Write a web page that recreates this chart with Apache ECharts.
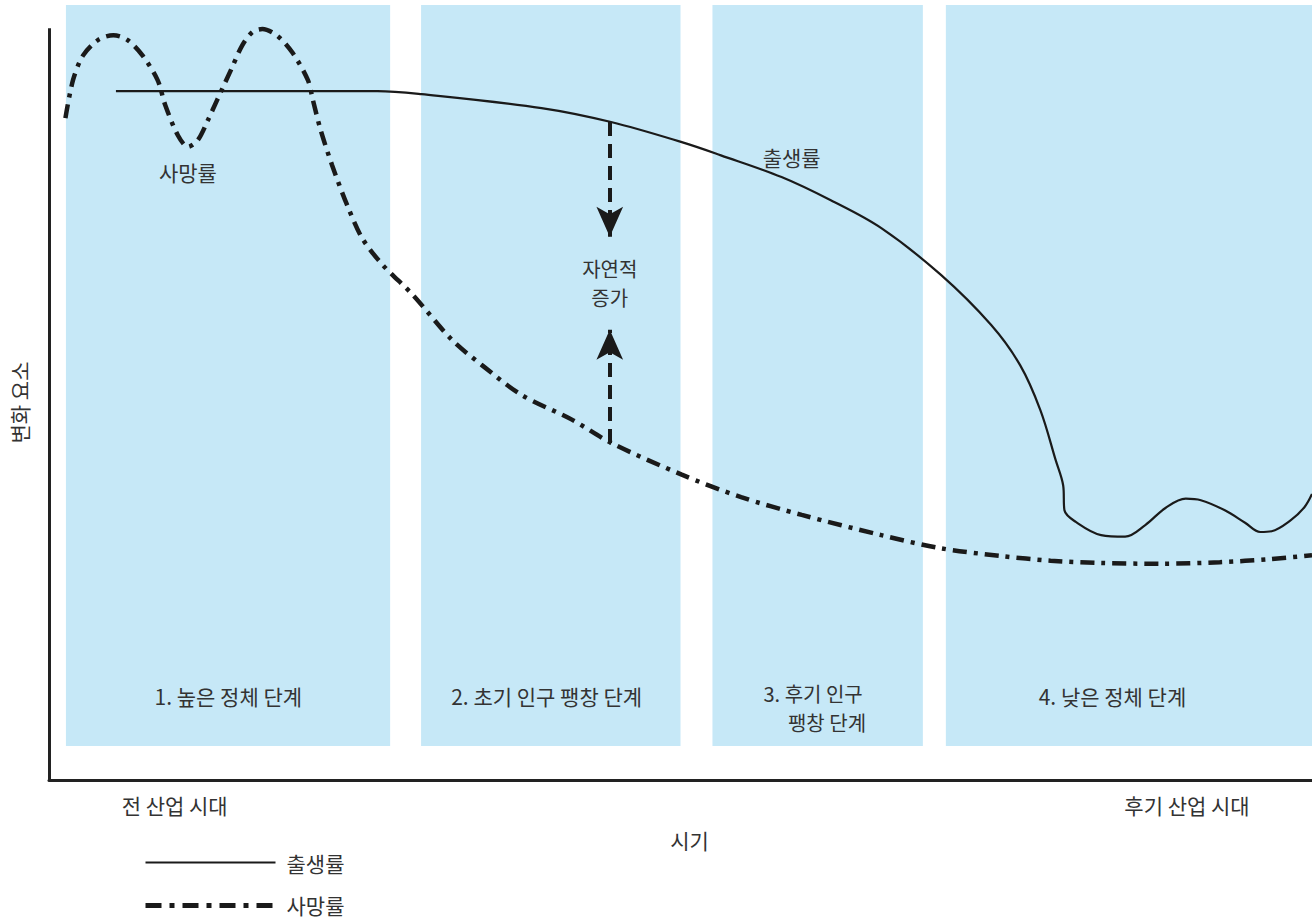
<!DOCTYPE html>
<html><head><meta charset="utf-8">
<script src="https://cdn.jsdelivr.net/npm/echarts@6/dist/echarts.min.js"></script>
<style>html,body{margin:0;padding:0;background:#fff}#c{width:1312px;height:920px}</style>
</head><body><div id="c"></div>
<script>
// Time (0-100) and magnitude (0-100)
const birthX = [5.3, 26.0, 29.5, 39.0, 44.5, 50.1, 53.2, 58.0, 61.9, 65.9, 70.6, 74.6, 76.9, 78.5, 79.7, 80.3, 80.4, 81.3, 83.3, 85.2, 86.8, 88.4, 90.0, 91.2, 93.1, 94.7, 95.9, 96.8, 98.3, 99.4, 100];
const birthY = [88.9, 88.9, 88.5, 86.7, 84.9, 82.3, 80.6, 77.8, 74.8, 71.2, 65.2, 58.7, 53.5, 47.7, 41.3, 38.0, 34.8, 33.3, 31.6, 31.4, 32.9, 35.1, 36.3, 36.1, 34.8, 33.2, 32.0, 32.1, 33.5, 35.2, 36.9];
const deathX = [1.3, 1.9, 2.7, 3.9, 5.1, 6.2, 7.4, 8.6, 9.2, 10.2, 11.0, 11.8, 12.6, 13.3, 14.4, 15.3, 16.1, 16.9, 18.1, 19.3, 20.5, 20.9, 21.5, 22.4, 23.6, 24.8, 26.4, 28.8, 31.9, 34.3, 37.4, 41.4, 44.5, 50.1, 54.8, 59.6, 65.9, 70.6, 75.4, 79.3, 83.3, 88.0, 92.7, 96.7, 100];
const deathY = [85.4, 90.3, 93.5, 95.5, 96.1, 95.5, 93.5, 90.3, 87.1, 83.2, 81.7, 82.6, 85.2, 87.7, 91.6, 94.8, 96.5, 96.9, 96.0, 93.8, 90.3, 87.7, 83.9, 79.4, 74.2, 69.9, 66.5, 62.6, 56.8, 53.5, 49.7, 46.5, 43.5, 39.4, 36.5, 34.2, 31.6, 29.9, 28.9, 28.3, 28.0, 27.9, 28.1, 28.5, 29.0];
const stageNames = ['1. 높은 정체 단계', '2. 초기 인구 팽창 단계', '3. 후기 인구', '팽창 단계', '4. 낮은 정체 단계'];
const stageStart = [1.34, 29.46, 52.53, 71.01];
const stageEnd = [27.01, 50.0, 69.19, 100];
const eraLabels = ['전 산업 시대', '후기 산업 시대'];
const eraAt = [9.95, 90.1];
const seriesNames = ['출생률', '사망률'];
const arrowX = 44.4;
const arrowDown = [84.9, 70.1];
const arrowUp = [43.5, 58.1];

const FONT = '"Noto Sans CJK KR", "Noto Sans", sans-serif';
const TXT = '#333';
const FS = 21;
const chart = echarts.init(document.getElementById('c'), null, {renderer: 'svg'});

const lbl = (name, x, y, fs) => ({name, coord: [x, y], value: name,
  symbol: 'circle', symbolSize: 0,
  label: {show: true, formatter: name, position: 'inside', color: TXT, fontSize: fs || FS, fontFamily: FONT, lineHeight: 20}});

chart.setOption({
  animation: false,
  grid: {left: 46, right: 0, top: 5, bottom: 140},
  legend: {
    orient: 'vertical', left: 143, top: 852, padding: 0, itemWidth: 130, itemHeight: 20, itemGap: 22,
    itemStyle: {opacity: 0},
    data: [
      {name: seriesNames[0], lineStyle: {width: 2.2, type: 'solid', color: '#1a1a1a'}},
      {name: seriesNames[1], lineStyle: {width: 5, type: [16, 8, 5, 8], color: '#1a1a1a'}}
    ],
    textStyle: {color: TXT, fontSize: FS, fontFamily: FONT, padding: [0, 0, 0, 6]}
  },
  xAxis: {
    type: 'value', min: 0, max: 100,
    name: '시기', nameLocation: 'middle', nameGap: 49,
    nameTextStyle: {color: TXT, fontSize: FS, fontFamily: FONT, padding: [0, 0, 0, 18]},
    axisLine: {show: true, lineStyle: {color: '#222', width: 3}},
    axisTick: {show: false}, splitLine: {show: false},
    axisLabel: {show: true, customValues: eraAt, margin: 14, color: TXT, fontSize: FS, fontFamily: FONT,
      formatter: v => eraLabels[eraAt.indexOf(v)] || ''}
  },
  yAxis: {
    type: 'value', min: 0, max: 100,
    name: '변화 요소', nameLocation: 'middle', nameGap: 20, nameRotate: 90,
    nameTextStyle: {color: TXT, fontSize: FS, fontFamily: FONT, padding: [0, 20, 0, 0]},
    axisLine: {show: false}, axisTick: {show: false}, axisLabel: {show: false}, splitLine: {show: false}
  },
  series: [
    {
      type: 'line', name: '__bg', silent: true, data: [], symbol: 'none',
      markArea: {silent: true, itemStyle: {color: '#c6e8f7'},
        data: stageStart.map((s, i) => [{coord: [s, 4.39]}, {coord: [stageEnd[i], 100]}])},
      markLine: {silent: true, symbol: 'none', label: {show: false},
        lineStyle: {color: '#222', width: 3, type: 'solid'},
        data: [[{coord: [0, 0]}, {coord: [0, 97]}]]},
      markPoint: {silent: true, data: [
        lbl(stageNames[0], 14.2, 10.8), lbl(stageNames[1], 39.4, 10.8),
        lbl(stageNames[2], 60.5, 11.1, 20), lbl(stageNames[3], 61.6, 7.4, 20),
        lbl(stageNames[4], 84.2, 10.8),
        lbl('사망률', 11.0, 78.4), lbl('출생률', 58.8, 80.4),
        lbl('자연적', arrowX, 66.0, 20), lbl('증가', arrowX, 62.3, 20)
      ]}
    },
    {
      type: 'line', name: seriesNames[0], smooth: 0.35, symbol: 'none',
      data: birthX.map((x, i) => [x, birthY[i]]),
      lineStyle: {color: '#1a1a1a', width: 2.2},
      itemStyle: {color: '#1a1a1a'}
    },
    {
      type: 'line', name: seriesNames[1], smooth: 0.3, symbol: 'none',
      data: deathX.map((x, i) => [x, deathY[i]]),
      lineStyle: {color: '#1a1a1a', width: 4.5, type: [14, 7, 4, 7]},
      itemStyle: {color: '#1a1a1a'},
      markLine: {silent: true, symbol: ['none', 'arrow'], symbolSize: [20, 30], label: {show: false},
        lineStyle: {color: '#1a1a1a', width: 4, type: [14, 8]},
        data: [
          [{coord: [arrowX, arrowDown[0]]}, {coord: [arrowX, arrowDown[1]]}],
          [{coord: [arrowX, arrowUp[0]]}, {coord: [arrowX, arrowUp[1]]}]
        ]}
    }
  ]
});
</script></body></html>
